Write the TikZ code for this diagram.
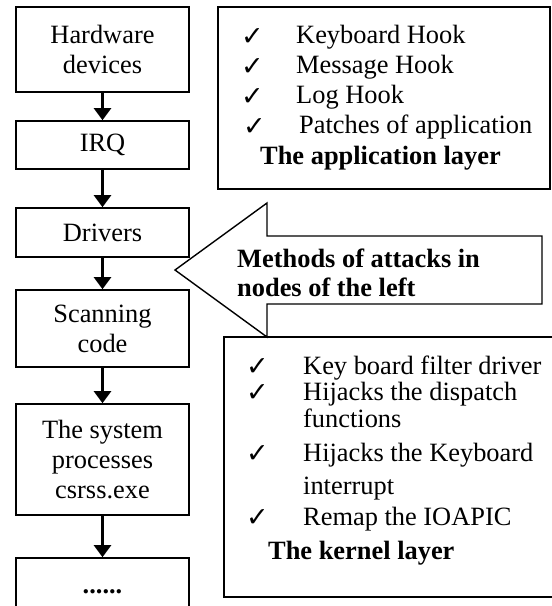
\documentclass[tikz,border=0pt]{standalone}
\usepackage{fontspec}
\setmainfont{Liberation Serif}
\newfontfamily\symfont{DejaVu Sans}
\usetikzlibrary{arrows.meta}
\begin{document}
\begin{tikzpicture}[x=1pt,y=-1pt,
  every node/.style={font=\fontsize{26.4}{30}\selectfont, inner sep=0pt},
  flowbox/.style={draw, line width=1.6pt, minimum width=173pt, align=center},
  conn/.style={line width=2.4pt, -{Triangle[length=12pt,width=17pt]}},
  frame/.style={draw, line width=1.6pt},
  tick/.style={font=\symfont\fontsize{27}{27}\selectfont, anchor=base west},
  item/.style={anchor=base west},
  head/.style={anchor=base west, font=\bfseries\fontsize{26.4}{30}\selectfont}]
\clip (0,0) rectangle (552,606);

% left column: the chain from the hardware up to the system processes
\node[flowbox, minimum height=85pt]  (hw)   at (102.5,49.5)  {Hardware\\devices};
\node[flowbox, minimum height=48pt]  (irq)  at (102.5,145)   {IRQ};
\node[flowbox, minimum height=49pt]  (drv)  at (102.5,232.5) {Drivers};
\node[flowbox, minimum height=77pt]  (scan) at (102.5,328.5) {Scanning\\code};
\node[flowbox, minimum height=111pt] (sys)  at (102.5,459.5) {The system\\processes\\csrss.exe};
\node[flowbox, minimum height=68pt, font=\bfseries\fontsize{26.4}{30}\selectfont] (more) at (102.5,592) {......};

\draw[conn] (hw) -- (irq);
\draw[conn] (irq) -- (drv);
\draw[conn] (drv) -- (scan);
\draw[conn] (scan) -- (sys);
\draw[conn] (sys) -- (more);

% block arrow pointing at the left column
\draw[line width=1.4pt, line join=miter]
  (175,270) -- (267,203) -- (267,236) -- (542,236) -- (542,304)
  -- (267,304) -- (267,337) -- cycle;
\node[head] (m1) at (237,267) {Methods of attacks in};
\node[head] (m2) at (237,296) {nodes of the left};

% application layer
\draw[frame] (218,7) rectangle (550,189);
\node[tick] (ta1) at (241,45)  {✓};
\node[tick] (ta2) at (241,75)  {✓};
\node[tick] (ta3) at (241,105) {✓};
\node[tick] (ta4) at (243,135) {✓};
\node[item] (a1) at (296,43)  {Keyboard Hook};
\node[item] (a2) at (296,73)  {Message Hook};
\node[item] (a3) at (296,103) {Log Hook};
\node[item] (a4) at (299,133) {Patches of application};
\node[head] (ah) at (260,164) {The application layer};

% kernel layer
\draw[frame] (224,337) rectangle (570,597);
\node[tick] (tk1) at (246,375) {✓};
\node[tick] (tk2) at (246,401) {✓};
\node[tick] (tk3) at (246,462) {✓};
\node[tick] (tk4) at (246,526) {✓};
\node[item] (k1) at (303,374) {Key board filter driver};
\node[item] (k2) at (303,400) {Hijacks the dispatch};
\node[item] (k3) at (303,427) {functions};
\node[item] (k4) at (303,461) {Hijacks the Keyboard};
\node[item] (k5) at (303,494) {interrupt};
\node[item] (k6) at (303,525) {Remap the IOAPIC};
\node[head] (kh) at (268,559) {The kernel layer};
\end{tikzpicture}
\end{document}
